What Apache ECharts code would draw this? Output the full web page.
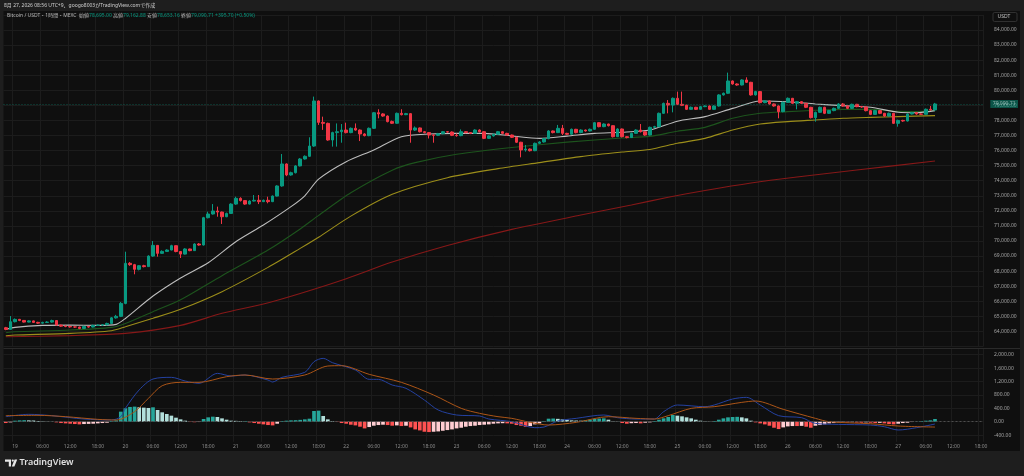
<!DOCTYPE html>
<html><head><meta charset="utf-8">
<script src="https://cdn.jsdelivr.net/npm/echarts@6.0.0/dist/echarts.min.js"></script>
<style>html,body{margin:0;padding:0;background:#1e1e1e;}#c{width:1024px;height:476px;}</style>
</head><body><div id="c"></div>
<script>
// hours are counted from day 19 00:00 (first candle = 18 22:00)
const firstHour = -2;
const lastAxisHour = 210;
const startDay = 19;

const firstOpen = 64247;
const closes = [
 64136, 64645,
 64800, 64730, 64620, 64700, 64600, 64550, 64600, 64620, 64720, 64420, 64350, 64330, 64300, 64290, 64200, 64330, 64290, 64400, 64420, 64440, 64530, 64900, 65000, 65860,
 68520, 68430, 68120, 68360, 68300, 69000, 69710, 69180, 69310, 69400, 69690, 69300, 69130, 69470, 69360, 69800, 69733, 71546, 71790, 71990, 71920, 71610, 71830, 72450,
 72830, 72680, 72450, 72650, 72700, 72610, 72700, 72610, 72980, 73650, 75110, 74380, 74530, 74980, 75440, 75620, 76300, 79290, 77870, 77806, 76700, 77190, 77250, 77360,
 77190, 77475, 77360, 77100, 76990, 77475, 78510, 78430, 78290, 77920, 77810, 78470, 78380, 78450, 77360, 77500, 77250, 77190, 77030, 77010, 77120, 77250, 77230, 77010,
 76990, 77250, 77190, 77140, 77360, 77250, 76810, 76970, 77080, 77250, 77140, 77030, 76880, 76550, 76040, 76100, 75990, 76480, 76570, 76790, 77300, 77190, 77475, 77140,
 77080, 77410, 77190, 77360, 77300, 77410, 77850, 77585, 77760, 77650, 76920, 77430, 76920, 76860, 77140, 77360, 77250, 77030, 77540, 77585, 78470, 79130, 79020, 79466,
 79067, 79001, 78735, 78870, 78735, 78913, 78957, 78735, 78957, 79690, 79800, 80616, 80417, 80350, 80682, 80527, 79690, 79910, 79178, 79290, 79089, 78957, 78580, 79200,
 79466, 79134, 79244, 79134, 78870, 78182, 78536, 78870, 78470, 78650, 78800, 79089, 78957, 78800, 79067, 78913, 78890, 78647, 78400, 78650, 78470, 78290, 78470, 77806,
 78000, 77960, 78426, 78514, 78426, 78404, 78740, 78695, 79090.71
];
const highs = [
 64300, 65020,
 64860, 64830, 64760, 64740, 64720, 64640, 64640, 64680, 64780, 64740, 64450, 64400, 64380, 64340, 64320, 64380, 64360, 64450, 64460, 64480, 64580, 64950, 65100, 65950,
 69290, 68600, 68480, 68400, 68420, 69050, 70000, 69720, 69380, 69450, 69750, 69700, 69320, 69520, 69490, 69850, 69860, 71600, 71945, 72450, 72280, 71950, 71880, 72500,
 72940, 72900, 72720, 72700, 73050, 73050, 72750, 72940, 73020, 73700, 75770, 75150, 74600, 75030, 75500, 75680, 76880, 79580, 79320, 78250, 77850, 77250, 77800, 77760,
 77850, 77530, 77800, 77400, 77150, 77530, 78560, 78740, 78480, 78330, 77990, 78520, 78740, 78500, 78480, 77600, 77530, 77300, 77230, 77080, 77170, 77300, 77290, 77270,
 77140, 77400, 77280, 77230, 77410, 77410, 77290, 77020, 77130, 77300, 77280, 77180, 77060, 76920, 76580, 76370, 76140, 76530, 76620, 76840, 77350, 77330, 77700, 77700,
 77180, 77460, 77440, 77410, 77390, 77460, 77900, 77880, 77810, 77780, 77680, 77480, 77460, 76960, 77190, 77410, 77760, 77280, 77590, 77640, 78520, 79180, 79350, 79520,
 79910, 79910, 79050, 78920, 78900, 78960, 79000, 78990, 79000, 79740, 79850, 81170, 80650, 80460, 80730, 80860, 80560, 79960, 79940, 79340, 79320, 79120, 78990, 79250,
 79520, 79490, 79290, 79280, 79160, 78900, 78580, 78920, 78900, 78700, 78850, 79140, 79150, 78990, 79110, 79100, 78960, 78920, 78680, 78700, 78690, 78500, 78520, 78500,
 78050, 78040, 78470, 78560, 78560, 78470, 78790, 78960, 79162.88
];
const lows = [
 64080, 64120,
 64600, 64680, 64590, 64600, 64560, 64510, 64520, 64560, 64580, 64380, 64300, 64280, 64250, 64230, 64150, 64170, 64240, 64260, 64370, 64390, 64400, 64500, 64850, 64950,
 65800, 68350, 67790, 68050, 68250, 68280, 68950, 68960, 69150, 69280, 69380, 69250, 68870, 69100, 69320, 69340, 69690, 69700, 71500, 71750, 71610, 71130, 71580, 71800,
 72400, 72620, 72400, 72420, 72620, 72450, 72580, 72500, 72580, 72950, 73600, 74300, 74330, 74480, 74950, 75400, 75580, 76250, 77700, 77370, 76650, 76260, 76260, 76520,
 77140, 77150, 77320, 76630, 76940, 76950, 77430, 78140, 78240, 77870, 77760, 77780, 78330, 78350, 76520, 77300, 77200, 77140, 76800, 76520, 76960, 77080, 77190, 76960,
 76920, 76950, 77140, 77090, 77100, 77200, 76760, 76780, 76930, 77040, 77090, 76980, 76830, 76500, 75550, 75930, 75940, 75960, 76440, 76530, 76750, 77140, 77160, 77030,
 77030, 77050, 77140, 77150, 77260, 77270, 77380, 77540, 77550, 77600, 76870, 76900, 76870, 76810, 76830, 77110, 77200, 76980, 77000, 77500, 77550, 78440, 78470, 78536,
 79020, 78950, 78690, 78700, 78690, 78700, 78880, 78690, 78700, 78920, 79650, 79760, 80370, 80300, 80320, 80480, 79640, 79650, 79130, 79140, 79040, 78910, 78140, 78540,
 79160, 79090, 78735, 79090, 78820, 78130, 77917, 78500, 78420, 78430, 78610, 78760, 78910, 78750, 78760, 78870, 78840, 78600, 78350, 78360, 78420, 78240, 78250, 77760,
 77585, 77910, 77930, 78390, 78380, 78360, 78380, 78650, 78653.16
];

// moving averages, sampled [hour, value]
const maWhite = [[-2,64140],[0,64270],[6,64400],[12,64420],[18,64400],[22,64470],[24,64860],[30,66350],[36,67550],[42,68560],[48,69950],[54,71060],[60,72280],[63,73000],[66,74100],[72,75260],[78,76040],[84,76920],[90,77100],[96,77140],[102,77140],[108,76970],[114,76810],[120,76960],[126,77140],[132,77210],[138,77360],[144,77950],[150,78250],[156,78800],[162,79290],[168,79240],[174,79090],[180,78980],[186,78870],[192,78540],[196,78510],[200,78650]];
const maGreen = [[-2,63915],[0,63980],[12,64090],[21,64270],[24,64530],[30,65310],[36,66100],[45,67700],[55,69400],[62,70800],[66,71700],[73,73200],[82,74700],[87,75200],[96,75750],[108,76200],[120,76560],[132,76830],[138,76940],[144,77280],[150,77540],[156,78140],[162,78470],[168,78580],[174,78670],[180,78730],[186,78730],[192,78600],[196,78590],[200,78650]];
const maYellow = [[-2,63716],[0,63760],[12,63870],[21,64050],[24,64310],[30,64870],[36,65470],[45,66640],[55,68250],[62,69510],[66,70250],[73,71650],[82,73100],[94,74200],[105,74800],[114,75200],[123,75600],[132,75900],[138,76070],[144,76480],[150,76810],[156,77360],[162,77760],[168,77920],[174,78030],[180,78140],[186,78200],[192,78250],[200,78320]];
const maRed = [[-2,63650],[12,63720],[24,63870],[36,64400],[45,65200],[54,65820],[62,66520],[72,67500],[82,68600],[94,69700],[108,70770],[123,71720],[134,72390],[142,72900],[150,73350],[160,73850],[170,74250],[183,74710],[200,75310]];

// MACD
const macdHist = [
 -40, -20,
 30, 40, 45, 40, 35, 20, 10, 5, 5, -20, -40, -50, -60, -70, -80, -70, -65, -60, -50, -40, -30, 20, 40, 300,
 400, 440, 450, 430, 420, 410, 430, 350, 280, 230, 180, 120, 70, 30, -10, -15, -10, 80, 130, 150, 140, 100, 60, 30,
 25, 20, 20, -20, -40, -60, -80, -100, -110, -60, 20, 30, 40, 45, 55, 70, 90, 320, 330, 170, 70, 20, -10, -40,
 -60, -90, -110, -150, -200, -160, -120, -100, -90, -100, -120, -110, -130, -120, -170, -230, -260, -300, -310, -300, -290, -270, -250, -230,
 -200, -180, -150, -130, -120, -100, -90, -80, -60, -50, -45, -50, -60, -100, -120, -150, -130, -80, -50, 20, 90, 95, 85, 70,
 60, 40, 35, 30, 50, 60, 80, 95, 100, 60, 10, 5, -40, -60, -45, -40, -50, -30, -20, 20, 60, 100, 140, 200,
 180, 160, 130, 100, 60, 30, 10, 5, 20, 60, 100, 130, 140, 145, 130, 100, 30, -20, -50, -80, -120, -180, -220, -170,
 -140, -130, -130, -125, -150, -180, -120, -100, -80, -50, -40, -20, -10, -20, -15, -25, -30, -20, -30, -40, -35, -50, -70, -80,
 -60, -40, -30, -10, 5, 20, 30, 40, 80
];
const macdLine = [[-2,150],[3,220],[8,180],[15,80],[21,50],[23,150],[24,400],[27,950],[30,1274],[34,1324],[37,1214],[40,1145],[44,1443],[47,1364],[50,1394],[55,1244],[56,1185],[58,1324],[63,1473],[65,1792],[67,1891],[69,1762],[74,1543],[77,1264],[79,1264],[82,1095],[85,996],[89,647],[92,349],[96,200],[101,170],[103,80],[108,0],[113,-179],[115,-160],[118,20],[122,100],[128,200],[131,120],[135,80],[139,80],[141,299],[144,498],[150,448],[152,498],[156,677],[159,727],[162,498],[166,180],[171,120],[174,-50],[179,-80],[186,-100],[189,-150],[192,-248],[196,-179],[200,-69]];
const signalLine = [[-2,180],[5,190],[11,150],[18,70],[22,50],[26,300],[29,697],[32,1075],[36,1175],[40,1175],[46,1344],[50,1394],[56,1274],[63,1394],[68,1662],[71,1672],[77,1414],[84,1175],[91,797],[97,399],[101,250],[105,150],[108,100],[112,-20],[116,-99],[122,-20],[129,150],[135,100],[139,80],[142,180],[147,398],[152,448],[158,577],[161,617],[167,369],[174,100],[177,0],[186,-60],[192,-129],[200,-160]];

const headerLine1 = '8月 27, 2026 08:56 UTC+9、googo8003がTradingView.comで作成';
const symbolText = 'Bitcoin / USDT・1時間・MEXC';
const changeText = '+395.70 (+0.50%)';

// ---------- build ----------
const categories = [];
for (let h = firstHour; h <= lastAxisHour; h++) {
  const hh = ((h % 24) + 24) % 24;
  const d = startDay + Math.floor(h / 24);
  categories.push(hh === 0 ? String(d) : (hh < 10 ? '0' : '') + hh + ':00');
}
const idx = h => h - firstHour;
const isLabelHour = i => ((i + firstHour) % 6 + 6) % 6 === 0;
const fmt = v => Number(v).toLocaleString('en-US', {minimumFractionDigits: 2, maximumFractionDigits: 2});

const candles = closes.map((c, i) => [i === 0 ? firstOpen : closes[i - 1], c, lows[i], highs[i]]);
const toSeries = arr => arr.map(p => [idx(p[0]), p[1]]);
const histData = macdHist.map((v, i) => {
  const p = i > 0 ? macdHist[i - 1] : 0;
  const color = v >= 0 ? (v >= p ? '#26a69a' : '#b2dfdb') : (v <= p ? '#ff5252' : '#ffcdd2');
  return {value: v, itemStyle: {color}};
});
const last = candles[candles.length - 1];

const GRID_L = 3.5, GRID_R = 40.7;
const gridLineColor = '#1c1c1c';
const FONT = "'Noto Sans', 'Noto Sans CJK JP', sans-serif";

const lineSeries = (data, color, width) => ({
  type: 'line', xAxisIndex: 0, yAxisIndex: 0, data: toSeries(data), showSymbol: false,
  smooth: 0.25, lineStyle: {color, width}, silent: true, z: 3
});

const option = {
  animation: false,
  backgroundColor: '#1e1e1e',
  textStyle: {fontFamily: FONT},
  grid: [
    {left: GRID_L, right: GRID_R, top: 14.9, height: 331.6},
    {left: GRID_L, right: GRID_R, top: 348, height: 93.8}
  ],
  xAxis: [
    {type: 'category', gridIndex: 0, data: categories, boundaryGap: true,
     axisLine: {show: false}, axisTick: {show: false}, axisLabel: {show: false},
     splitLine: {show: true, interval: i => isLabelHour(i), lineStyle: {color: gridLineColor}}},
    {type: 'category', gridIndex: 1, data: categories, boundaryGap: true,
     axisLine: {show: false}, axisTick: {show: false},
     axisLabel: {interval: i => isLabelHour(i), fontSize: 5, color: '#8c8c8c', margin: 2.5, fontFamily: FONT},
     splitLine: {show: true, interval: i => isLabelHour(i), lineStyle: {color: gridLineColor}}}
  ],
  yAxis: [
    {type: 'value', gridIndex: 0, position: 'right', min: 63000, max: 85000, interval: 1000, scale: true,
     axisLine: {show: false}, axisTick: {show: false},
     axisLabel: {margin: 10.7, fontSize: 5, color: '#a3a3a3', showMinLabel: false, showMaxLabel: false, formatter: v => fmt(v), fontFamily: FONT},
     splitLine: {lineStyle: {color: gridLineColor}}},
    {type: 'value', gridIndex: 1, position: 'right', min: -600, max: 2200, interval: 200,
     axisLine: {show: false}, axisTick: {show: false},
     axisLabel: {margin: 10.7, fontSize: 5, color: '#a3a3a3', fontFamily: FONT,
       formatter: v => (Math.round(v) % 400 === 0 && v >= -400 && v <= 2000) ? fmt(v) : ''},
     splitLine: {lineStyle: {color: ['rgba(0,0,0,0)', gridLineColor]}}}
  ],
  series: [
    lineSeries(maRed, '#861818', 1.1),
    lineSeries(maYellow, '#9c8e1a', 1.1),
    lineSeries(maGreen, '#1d541d', 1.1),
    lineSeries(maWhite, '#bdbdbd', 1.1),
    {type: 'candlestick', xAxisIndex: 0, yAxisIndex: 0, data: candles, barWidth: 3.2, z: 4,
     itemStyle: {color: '#089981', color0: '#f23645', borderColor: '#089981', borderColor0: '#f23645', borderWidth: 1},
     markLine: {symbol: ['none', 'none'], silent: true, animation: false,
       lineStyle: {color: '#089981', type: [1, 2], width: 1, opacity: 0.5},
       label: {position: 'end', distance: 7, formatter: fmt(last[1]), backgroundColor: '#089981', color: '#ffffff',
               fontSize: 5, padding: [1.5, 2.5], fontFamily: FONT},
       data: [{yAxis: last[1]}]}},
    {type: 'bar', xAxisIndex: 1, yAxisIndex: 1, data: histData, barWidth: '80%', z: 2,
     markLine: {symbol: ['none', 'none'], silent: true, label: {show: false},
       lineStyle: {color: '#4d4d4d', type: [2, 2], width: 1}, data: [{yAxis: 0}]}},
    {type: 'line', xAxisIndex: 1, yAxisIndex: 1, data: toSeries(macdLine), showSymbol: false, smooth: 0.3,
     lineStyle: {color: '#2441a0', width: 1}, z: 3},
    {type: 'line', xAxisIndex: 1, yAxisIndex: 1, data: toSeries(signalLine), showSymbol: false, smooth: 0.3,
     lineStyle: {color: '#ac5517', width: 1}, z: 3}
  ],
  graphic: [
    {type: 'rect', z: -100, shape: {x: 3.5, y: 11, width: 1016.5, height: 440}, style: {fill: '#0f0f0f'}},
    {type: 'rect', z: 50, shape: {x: 3.5, y: 348, width: 1016.5, height: 1}, style: {fill: '#2a2a2a'}},
    {type: 'text', z: 50, left: 4, top: 3, style: {text: headerLine1, fontSize: 5, fill: '#cfcfcf', fontFamily: FONT}},
    {type: 'text', z: 50, left: 7, top: 13.5, style: {
      text: '{t|' + symbolText + '}  {t|始値}{v|' + fmt(last[0]) + '} {t|高値}{v|' + fmt(last[3]) + '} {t|安値}{v|' + fmt(last[2]) + '} {t|終値}{v|' + fmt(last[1]) + '} {v|' + changeText + '}',
      fontFamily: FONT, fontSize: 5,
      rich: {t: {fill: '#b8b8b8', fontSize: 5, fontFamily: FONT}, v: {fill: '#089981', fontSize: 5, fontFamily: FONT}}}},
    {type: 'rect', z: 50, shape: {x: 993, y: 12.5, width: 24, height: 9, r: 1.5}, style: {fill: '#0f0f0f', stroke: '#3a3a3a', lineWidth: 0.8}},
    {type: 'text', z: 51, left: 997.5, top: 14.5, style: {text: 'USDT', fontSize: 5, fill: '#c8c8c8', fontFamily: FONT}},
    {type: 'polygon', z: 50, shape: {points: [[5, 459.5], [11, 459.5], [11, 466.5], [8.8, 466.5], [8.8, 461.7], [5, 461.7]]}, style: {fill: '#e6e6e6'}},
    {type: 'circle', z: 50, shape: {cx: 12.8, cy: 460.6, r: 1.1}, style: {fill: '#e6e6e6'}},
    {type: 'polygon', z: 50, shape: {points: [[14.6, 459.5], [17.2, 459.5], [14.4, 466.5], [11.8, 466.5]]}, style: {fill: '#e6e6e6'}},
    {type: 'text', z: 50, left: 19.5, top: 457.5, style: {text: 'TradingView', fontSize: 9, fontWeight: 600, fill: '#e0e0e0', fontFamily: FONT}}
  ]
};

const chart = echarts.init(document.getElementById('c'), null, {renderer: 'canvas'});
chart.setOption(option);
</script></body></html>
